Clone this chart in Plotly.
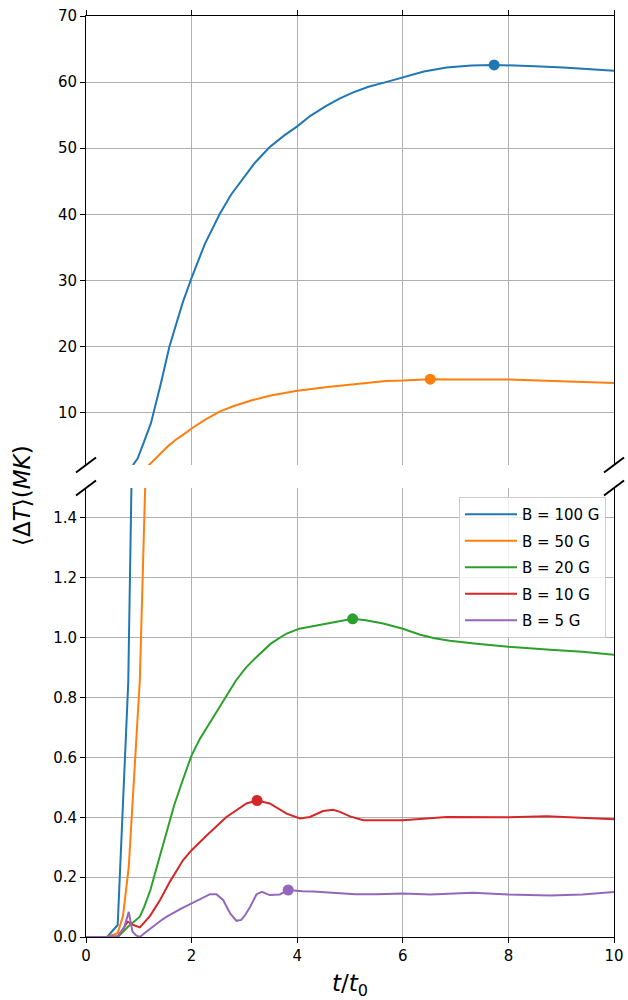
import plotly.graph_objects as go
import numpy as np

# ---- data ----
t_100 = [0, 0.4, 0.6, 0.8, 0.86, 0.9, 0.98, 1.1, 1.23, 1.42, 1.58, 1.83, 2.0, 2.25, 2.53, 2.75, 2.97,
         3.2, 3.47, 3.75, 4.0, 4.25, 4.55, 4.8, 5.05, 5.35, 5.68, 6.0, 6.4, 6.83, 7.3, 7.73, 8.0, 8.5,
         9.04, 9.5, 10]
v_100 = [0, 0, 0.04, 0.85, 1.5, 2.2, 3.09, 5.6, 8.4, 14.5, 20.0, 26.6, 30.4, 35.5, 40.0, 43.0, 45.3,
         47.8, 50.1, 51.9, 53.3, 54.9, 56.4, 57.5, 58.4, 59.3, 60.0, 60.7, 61.6, 62.2, 62.5, 62.6, 62.55,
         62.4, 62.2, 61.95, 61.7]

t_50 = [0, 0.4, 0.6, 0.7, 0.81, 0.9, 0.95, 1.02, 1.12, 1.2, 1.29, 1.4, 1.55, 1.7, 1.83, 2.0, 2.25,
        2.53, 2.8, 3.16, 3.5, 4.0, 4.62, 5.1, 5.68, 6.0, 6.52, 7.0, 8.0, 9.0, 10]
v_50 = [0, 0, 0.013, 0.07, 0.234, 0.5, 0.68, 0.86, 1.5, 2.1, 2.83, 3.7, 4.9, 5.9, 6.6, 7.6, 8.9,
        10.15, 11.0, 11.9, 12.6, 13.3, 13.9, 14.35, 14.8, 14.85, 15.06, 15.03, 15.0, 14.75, 14.5]

t_20 = [0, 0.4, 0.6, 0.8, 1.02, 1.1, 1.22, 1.35, 1.52, 1.67, 1.83, 2.0, 2.15, 2.34, 2.6, 2.84, 3.03,
        3.22, 3.5, 3.79, 4.04, 4.3, 4.55, 4.8, 5.05, 5.3, 5.63, 6.0, 6.33, 6.6, 6.89, 7.4, 8.0, 8.79,
        9.4, 10]
v_20 = [0, 0, 0, 0.035, 0.068, 0.1, 0.157, 0.24, 0.347, 0.44, 0.523, 0.607, 0.66, 0.713, 0.79, 0.857,
        0.9, 0.934, 0.98, 1.013, 1.03, 1.038, 1.047, 1.055, 1.063, 1.058, 1.047, 1.03, 1.01, 0.998,
        0.99, 0.98, 0.97, 0.96, 0.953, 0.943]

t_10 = [0, 0.4, 0.6, 0.79, 0.9, 1.02, 1.21, 1.4, 1.59, 1.84, 2.0, 2.29, 2.66, 3.04, 3.24, 3.48,
        3.8, 4.05, 4.24, 4.49, 4.68, 4.81, 5.0, 5.25, 5.6, 6.0, 6.83, 8.0, 8.73, 9.4, 10]
v_10 = [0, 0, 0, 0.051, 0.04, 0.032, 0.07, 0.123, 0.185, 0.257, 0.29, 0.34, 0.401, 0.446, 0.456,
        0.446, 0.412, 0.396, 0.401, 0.421, 0.425, 0.418, 0.403, 0.39, 0.389, 0.39, 0.401, 0.4, 0.403,
        0.398, 0.393]

t_5 = [0, 0.38, 0.6, 0.72, 0.81, 0.88, 0.95, 1.02, 1.1, 1.26, 1.42, 1.53, 1.8, 2.0, 2.2, 2.35, 2.47,
       2.6, 2.73, 2.85, 2.94, 3.02, 3.11, 3.18, 3.23, 3.33, 3.48, 3.67, 3.83, 4.1, 4.31, 4.81, 5.11,
       5.5, 6.0, 6.52, 7.33, 8.0, 8.79, 9.4, 10]
v_5 = [0, 0, 0.003, 0.03, 0.084, 0.018, 0.005, 0.0, 0.012, 0.035, 0.055, 0.068, 0.095, 0.112, 0.13,
       0.143, 0.143, 0.123, 0.079, 0.054, 0.057, 0.075, 0.101, 0.125, 0.143, 0.151, 0.14, 0.142, 0.157,
       0.153, 0.152, 0.146, 0.143, 0.143, 0.145, 0.142, 0.148, 0.142, 0.139, 0.142, 0.15]

labels = ["B = 100 G", "B = 50 G", "B = 20 G", "B = 10 G", "B = 5 G"]
colors = ["#1f77b4", "#ff7f0e", "#2ca02c", "#d62728", "#9467bd"]
series = [(t_100, v_100), (t_50, v_50), (t_20, v_20), (t_10, v_10), (t_5, v_5)]

x_ticks = [0, 2, 4, 6, 8, 10]
y_top_ticks = [10, 20, 30, 40, 50, 60, 70]
y_bot_ticks = [0.0, 0.2, 0.4, 0.6, 0.8, 1.0, 1.2, 1.4]

# ---- layout geometry (pixels) ----
W, H = 628, 1000
L, R, T, B = 86, 14, 16, 63
PW, PH = W - L - R, H - T - B
top_px_bottom = 465   # bottom edge of upper panel
bot_px_top = 488      # top edge of lower panel


def py2paper(py):
    return (H - B - py) / PH


def px2paper(px):
    return (px - L) / PW


top_dom = [py2paper(top_px_bottom), 1.0]
bot_dom = [0.0, py2paper(bot_px_top)]

FONT = "DejaVu Sans"
fig = go.Figure()

for (t, v), lab, col in zip(series, labels, colors):
    i = int(np.argmax(v))
    for xa, ya, show in (("x", "y", True), ("x2", "y2", False)):
        fig.add_trace(go.Scatter(x=t, y=v, mode="lines", name=lab, line=dict(color=col, width=2),
                                 xaxis=xa, yaxis=ya, showlegend=show, legendgroup=lab))
        fig.add_trace(go.Scatter(x=[t[i]], y=[v[i]], mode="markers", marker=dict(color=col, size=11),
                                 xaxis=xa, yaxis=ya, showlegend=False, legendgroup=lab,
                                 cliponaxis=True))

axis_common = dict(showgrid=True, gridcolor="#b0b0b0", gridwidth=1, zeroline=False,
                   showline=True, linecolor="black", linewidth=1, ticks="outside",
                   ticklen=5, tickwidth=1, tickcolor="black", automargin=False,
                   tickfont=dict(family=FONT, size=15, color="black"))

fig.update_layout(
    width=W, height=H,
    margin=dict(l=L, r=R, t=T, b=B, autoexpand=False),
    paper_bgcolor="white", plot_bgcolor="white",
    font=dict(family=FONT, color="black"),
    xaxis=dict(domain=[0, 1], range=[0, 10], tickvals=x_ticks, anchor="y", **axis_common),
    yaxis=dict(domain=bot_dom, range=[0, 1.5], tickvals=y_bot_ticks,
               ticktext=[f"{v:.1f}" for v in y_bot_ticks], anchor="x", mirror=True, **axis_common),
    xaxis2=dict(domain=[0, 1], range=[0, 10], tickvals=x_ticks, anchor="y2", side="top",
                matches="x", showticklabels=False, **axis_common),
    yaxis2=dict(domain=top_dom, range=[2.08, 70], tickvals=y_top_ticks, anchor="x2", mirror=True,
                **axis_common),
    legend=dict(x=px2paper(606), y=py2paper(497), xanchor="right", yanchor="top",
                bgcolor="rgba(255,255,255,0.8)", bordercolor="#cccccc", borderwidth=1,
                tracegroupgap=4, itemwidth=52,
                font=dict(family=FONT, size=15, color="black")),
    showlegend=True,
)

# x-axis title and y-axis title
fig.add_annotation(text="<i>t</i>/<i>t</i><sub>0</sub>", xref="paper", yref="paper",
                   x=px2paper(350), y=py2paper(985), xanchor="center", yanchor="middle",
                   showarrow=False, font=dict(family=FONT, size=23, color="black"))
fig.add_annotation(text="⟨Δ<i>T</i>⟩(<i>MK</i>)", xref="paper", yref="paper",
                   x=px2paper(22), y=py2paper(496), xanchor="center", yanchor="middle",
                   textangle=-90, showarrow=False, font=dict(family=FONT, size=23, color="black"))

# break marks on both spines
for cx in (L, L + PW):
    for cy in (top_px_bottom, bot_px_top):
        fig.add_shape(type="line", xref="paper", yref="paper",
                      x0=px2paper(cx - 10), y0=py2paper(cy + 7.5),
                      x1=px2paper(cx + 10), y1=py2paper(cy - 7.5),
                      line=dict(color="black", width=2))

fig.write_html("out.html", config={"displayModeBar": False},
               post_script="document.body.style.margin='0';document.body.style.overflow='hidden';")
